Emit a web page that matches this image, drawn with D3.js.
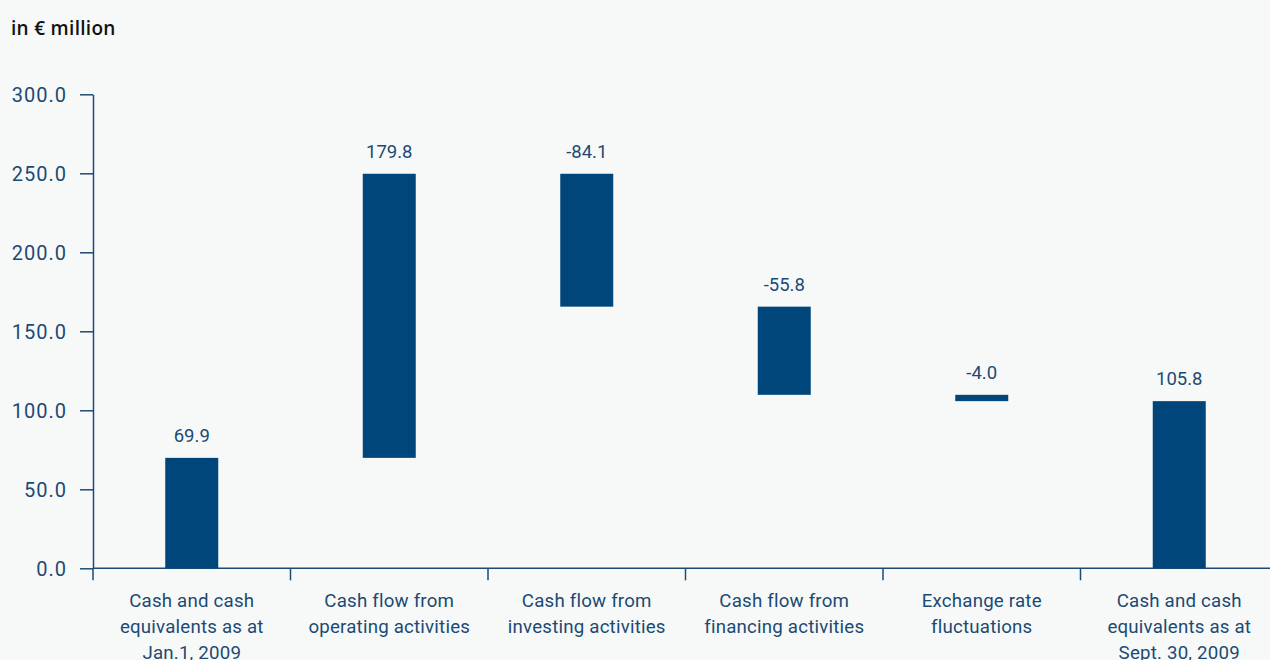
<!DOCTYPE html>
<html>
<head>
<meta charset="utf-8">
<script src="https://cdn.jsdelivr.net/npm/d3@7"></script>
<style>
  html, body { margin: 0; padding: 0; background: #f7f9f9; }
  svg { display: block; }
  text { font-family: Roboto, "Open Sans", sans-serif; }
</style>
</head>
<body>
<svg id="chart" width="1270" height="660"></svg>
<script>
const categories = [
  ["Cash and cash", "equivalents as at", "Jan.1, 2009"],
  ["Cash flow from", "operating activities"],
  ["Cash flow from", "investing activities"],
  ["Cash flow from", "financing activities"],
  ["Exchange rate", "fluctuations"],
  ["Cash and cash", "equivalents as at", "Sept. 30, 2009"]
];
const values = [69.9, 179.8, -84.1, -55.8, -4.0, 105.8];
const isTotal = [true, false, false, false, false, true];
const yTicks = [0, 50, 100, 150, 200, 250, 300];
const title = "in € million";

const svg = d3.select("#chart");
const navy = "#00467a";
const txt = "#1d4a73";

const x = d3.scaleBand().domain(d3.range(categories.length)).range([93, 1278]).paddingInner(0).paddingOuter(0);
const y = d3.scaleLinear().domain([0, 300]).range([568.3, 94.3]);

// compute waterfall
let running = 0;
const bars = values.map((v, i) => {
  let start, end;
  if (isTotal[i]) { start = 0; end = v; running = v; }
  else { start = running; end = running + v; running = end; }
  return { i, v, lo: Math.min(start, end), hi: Math.max(start, end) };
});

// title
svg.append("text").attr("x", 11).attr("y", 35).attr("font-size", 19).attr("font-weight", 600)
  .style("font-family", "'Open Sans', sans-serif").attr("letter-spacing", 0.3)
  .attr("fill", "#111").text(title);

// y axis
const yAxis = d3.axisLeft(y).tickValues(yTicks).tickFormat(d3.format(".1f")).tickSize(13).tickSizeOuter(0);
const gy = svg.append("g").attr("transform", "translate(93,0)").call(yAxis);
gy.select(".domain").attr("stroke", txt).attr("stroke-width", 1.5);
gy.selectAll(".tick line").attr("stroke", txt).attr("stroke-width", 1.5);
gy.selectAll(".tick text").attr("fill", txt).attr("font-size", 20).attr("x", -26).attr("dy", "0.35em")
  .attr("letter-spacing", 1)
  .style("font-family", "Roboto, sans-serif");

// x axis
const gx = svg.append("g").attr("transform", "translate(0,568.3)");
gx.append("line").attr("x1", 93).attr("x2", 1278).attr("y1", 0).attr("y2", 0).attr("stroke", txt).attr("stroke-width", 1.5);
const edges = d3.range(categories.length + 1).map(i => i < categories.length ? x(i) : x(categories.length - 1) + x.bandwidth());
gx.selectAll(".xt").data(edges).enter().append("line")
  .attr("x1", d => d).attr("x2", d => d).attr("y1", 0).attr("y2", 12)
  .attr("stroke", txt).attr("stroke-width", 1.5);

// category labels
const labelG = svg.append("g");
categories.forEach((lines, i) => {
  const t = labelG.append("text").attr("x", x(i) + x.bandwidth() / 2).attr("y", 607)
    .attr("text-anchor", "middle").attr("font-size", 18.7).attr("fill", txt).attr("letter-spacing", 0.2);
  lines.forEach((ln, j) => {
    t.append("tspan").attr("x", x(i) + x.bandwidth() / 2).attr("dy", j === 0 ? 0 : 26).text(ln);
  });
});

// bars
const bw = 53;
svg.append("g").selectAll("rect").data(bars).enter().append("rect")
  .attr("x", d => x(d.i) + x.bandwidth() / 2 - bw / 2)
  .attr("width", bw)
  .attr("y", d => y(d.hi))
  .attr("height", d => y(d.lo) - y(d.hi))
  .attr("fill", navy);

// value labels
svg.append("g").selectAll("text").data(bars).enter().append("text")
  .attr("x", d => x(d.i) + x.bandwidth() / 2)
  .attr("y", d => y(d.hi) - 16)
  .attr("text-anchor", "middle").attr("font-size", 18.5).attr("fill", txt)
  .text(d => d3.format(".1f")(d.v).replace("\u2212", "-"));
</script>
</body>
</html>
